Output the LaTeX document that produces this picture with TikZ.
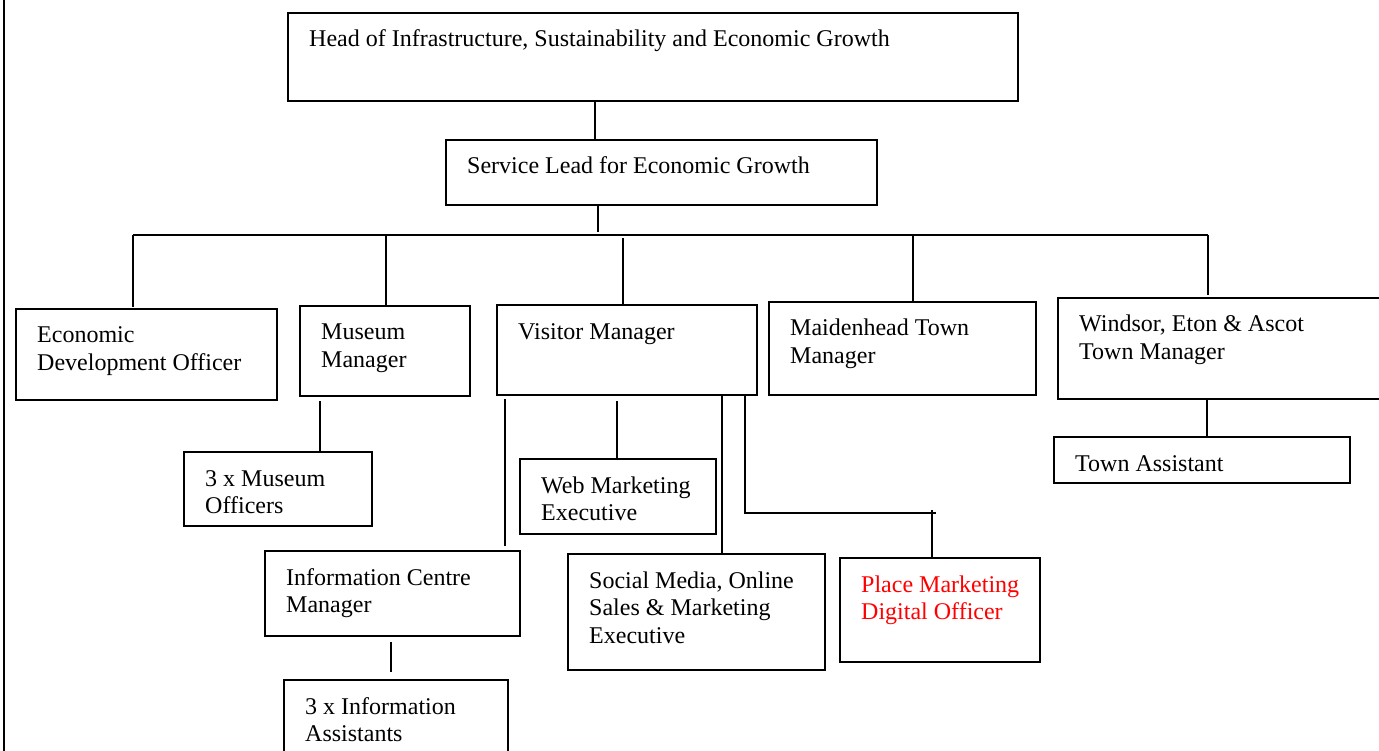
\documentclass[tikz,border=0pt]{standalone}
\usepackage{fontspec}
\setmainfont{Liberation Serif}
\usetikzlibrary{calc}

% Organisation box: [label options], name, x, y (top-left), width, height, label text
\newcommand\orgbox[7][]{%
  \node[box, minimum width=#5pt, minimum height=#6pt] (#2) at (#3,#4) {};
  \node[lbl,#1] (#2-txt) at ([xshift=21pt,yshift=-34pt]#2.north west)
    {\parbox[t]{#5pt}{\raggedright #7}};
}

\begin{document}
\begin{tikzpicture}[x=1pt,y=-1pt,
  box/.style={draw, line width=1.6pt, rectangle, inner sep=0pt, outer sep=0pt, anchor=north west},
  lbl/.style={anchor=base west, inner sep=0pt, font=\fontsize{24}{27.5}\selectfont},
  link/.style={draw, line width=1.6pt}]

\useasboundingbox (0,0) rectangle (1379,751);

% page margin rule
\draw[line width=2pt] (4,0) -- (4,751);

% boxes
\orgbox{head}{288}{13}{730}{88}{Head of Infrastructure, Sustainability and Economic Growth}
\orgbox{lead}{446}{140}{431}{65}{Service Lead for Economic Growth}
\orgbox{edo}{16}{309}{261}{91}{Economic\\Development Officer}
\orgbox{mm}{300}{306}{170}{90}{Museum\\Manager}
\orgbox{vm}{497}{305}{260}{90}{Visitor Manager}
\orgbox{mh}{769}{302}{267}{93}{Maidenhead Town\\Manager}
\orgbox{we}{1058}{298}{340}{101}{Windsor, Eton \& Ascot\\Town Manager}
\orgbox{ta}{1054}{437}{296}{46}{Town Assistant}
\orgbox{mo}{184}{452}{188}{74}{3 x Museum\\Officers}
\orgbox{icm}{265}{551}{255}{85}{Information Centre\\Manager}
\orgbox{ia}{284}{680}{224}{90}{3 x Information\\Assistants}
\orgbox{web}{520}{459}{196}{75}{Web Marketing\\Executive}
\orgbox{sm}{568}{554}{257}{116}{Social Media, Online\\Sales \& Marketing\\Executive}
\orgbox[text=red]{pm}{840}{558}{200}{104}{Place Marketing\\Digital Officer}

% top of the tree
\draw[link] ([xshift=307pt]head.south west) -- ([xshift=307pt]head.south west |- lead.north);
\coordinate (bus-l) at (133,235);
\coordinate (bus-r) at (1208,235);
\draw[link] ([xshift=152pt]lead.south west) -- ([xshift=152pt,yshift=3pt]lead.south west |- bus-l);
\draw[link] (bus-l) -- (bus-r);

% drops to the managers
\draw[link] (bus-l) -- ([yshift=2pt]bus-l |- edo.north);
\draw[link] ([xshift=86pt]mm.north west) -- ([xshift=86pt]mm.north west |- bus-l);
\draw[link] ([xshift=126pt]vm.north west) -- ([xshift=126pt,yshift=-3pt]vm.north west |- bus-l);
\draw[link] ([xshift=144pt]mh.north west) -- ([xshift=144pt]mh.north west |- bus-l);
\draw[link] (bus-r) -- ([yshift=3pt]bus-r |- we.north);

% teams below the managers
\draw[link] ([xshift=136pt]mo.north west) -- ([xshift=136pt,yshift=-5pt]mo.north west |- mm.south);
\draw[link] ([xshift=240pt,yshift=5pt]icm.north west) -- ([xshift=240pt,yshift=-4pt]icm.north west |- vm.south);
\draw[link] ([xshift=107pt,yshift=8pt]ia.north west) -- ([xshift=107pt,yshift=-6pt]ia.north west |- icm.south);
\draw[link] ([xshift=97pt]web.north west) -- ([xshift=97pt,yshift=-6pt]web.north west |- vm.south);
\draw[link] ([xshift=154pt]sm.north west) -- ([xshift=154pt]sm.north west |- vm.south);
\draw[link] ([xshift=-12pt]vm.south east) |- ([xshift=96pt,yshift=45pt]pm.north west);
\draw[link] ([xshift=92pt]pm.north west) -- ([xshift=92pt,yshift=48pt]pm.north west);
\draw[link] ([xshift=153pt]ta.north west) -- ([xshift=153pt]ta.north west |- we.south);

\end{tikzpicture}
\end{document}
